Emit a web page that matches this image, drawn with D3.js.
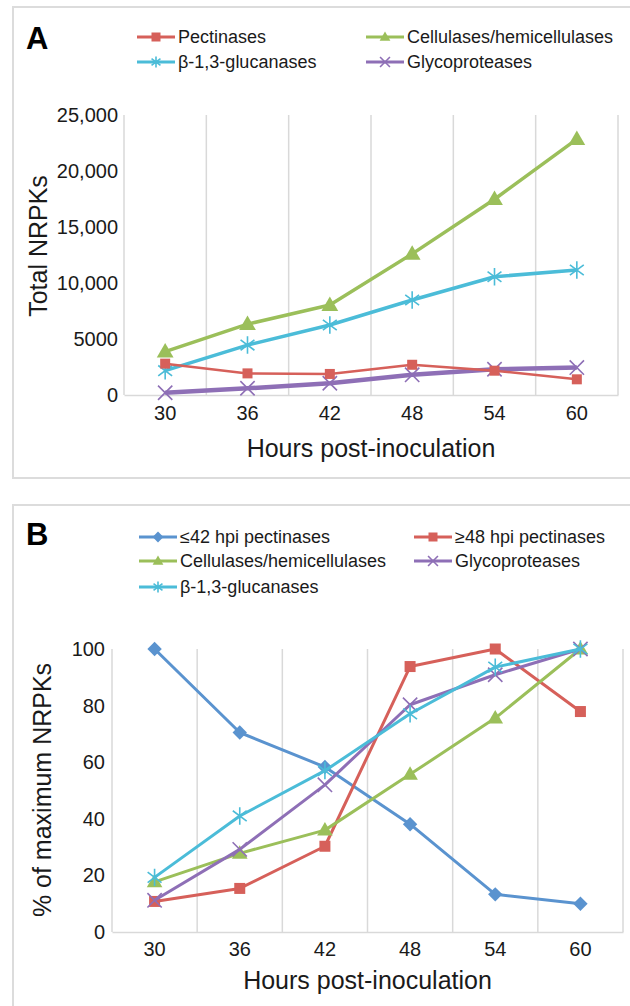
<!DOCTYPE html>
<html>
<head>
<meta charset="utf-8">
<script src="https://cdn.jsdelivr.net/npm/d3@7"></script>
<style>
  body { margin: 0; background: #fff; }
  text { font-family: "Liberation Sans", Arial, sans-serif; fill: #1a1a1a; }
</style>
</head>
<body>
<script>
// hours post-inoculation
var hours = [30, 36, 42, 48, 54, 60];

// panel A: total NRPKs
var pectinasesA = [2800, 1930, 1880, 2700, 2170, 1400];
var cellulasesA = [3870, 6330, 8030, 12600, 17480, 22850];
var glucanasesA = [2170, 4460, 6250, 8480, 10560, 11160];
var glycoproteasesA = [200, 600, 1050, 1800, 2300, 2450];
var ticksA = [0, 5000, 10000, 15000, 20000, 25000];
var tickLabelsA = ["0", "5000", "10,000", "15,000", "20,000", "25,000"];

// panel B: % of maximum NRPKs
var earlyPectB = [100, 70.5, 58.3, 38.1, 13.3, 10];
var latePectB = [10.8, 15.4, 30.3, 93.8, 100, 77.9];
var cellulasesB = [17.7, 27.8, 36, 55.7, 75.6, 100];
var glycoproteasesB = [11.2, 29.2, 52, 80.3, 90.9, 100];
var glucanasesB = [19.3, 41, 57, 77.1, 93.6, 100];
var ticksB = [0, 20, 40, 60, 80, 100];

var colors = {
  red: "#d6605a",
  green: "#9bbf5a",
  cyan: "#4bbcd8",
  purple: "#8e6fb6",
  blue: "#5a93cf"
};

var svg = d3.select("body").append("svg")
    .attr("width", 630)
    .attr("height", 1006);

// draws one marker shape centered at 0,0
function marker(g, shape, color, size) {
  var s = size;
  if (shape == "square") {
    g.append("rect").attr("x", -s / 2).attr("y", -s / 2)
      .attr("width", s).attr("height", s).attr("fill", color);
  } else if (shape == "triangle") {
    g.append("path").attr("d", `M0,${-s * 0.62}L${s * 0.6},${s * 0.42}L${-s * 0.6},${s * 0.42}Z`)
      .attr("fill", color);
  } else if (shape == "diamond") {
    g.append("path").attr("d", `M0,${-s * 0.6}L${s * 0.6},0L0,${s * 0.6}L${-s * 0.6},0Z`)
      .attr("fill", color);
  } else if (shape == "star") {
    var r = s * 0.62;
    g.append("path")
      .attr("d", `M0,${-r}V${r}M${-r * 0.8},${-r * 0.6}L${r * 0.8},${r * 0.6}M${-r * 0.8},${r * 0.6}L${r * 0.8},${-r * 0.6}`)
      .attr("stroke", color).attr("stroke-width", 1.6).attr("fill", "none");
  } else if (shape == "x") {
    var q = s * 0.55;
    g.append("path")
      .attr("d", `M${-q},${-q}L${q},${q}M${-q},${q}L${q},${-q}`)
      .attr("stroke", color).attr("stroke-width", 1.6).attr("fill", "none");
  }
}

function drawPanel(p) {
  // panel frame
  svg.append("rect")
    .attr("x", 13).attr("y", p.frameTop)
    .attr("width", 640).attr("height", p.frameHeight)
    .attr("fill", "none").attr("stroke", "#dcdcdc").attr("stroke-width", 2);

  svg.append("text")
    .attr("x", 26).attr("y", p.letterY)
    .style("font-size", "31px").style("font-weight", "bold")
    .style("fill", "#000")
    .text(p.letter);

  var x = d3.scaleBand().domain(hours).range([p.left, p.right]).padding(0);
  var y = d3.scaleLinear().domain([0, p.yMax]).range([p.bottom, p.top]);

  // vertical gridlines at category boundaries
  var edges = hours.map(h => x(h)).concat([p.right]);
  svg.append("g").selectAll("line")
    .data(edges)
    .enter()
    .append("line")
    .attr("x1", d => d).attr("x2", d => d)
    .attr("y1", p.top).attr("y2", p.bottom)
    .attr("stroke", "#d9d9d9").attr("stroke-width", 1.5);

  // axes
  var leftAxis = d3.axisLeft(y).tickValues(p.ticks).tickSize(0).tickPadding(p.tickPad)
    .tickFormat((d, i) => p.tickLabels[i]);
  var yAxisGroup = svg.append("g")
    .attr("transform", `translate(${p.left},0)`)
    .call(leftAxis);
  yAxisGroup.select(".domain").remove();
  yAxisGroup.selectAll("text").style("font-size", "20px").style("font-family", "Liberation Sans, Arial");

  var bottomAxis = d3.axisBottom(x).tickSize(0).tickPadding(p.xTickPad);
  var xAxisGroup = svg.append("g")
    .attr("transform", `translate(0,${p.bottom})`)
    .call(bottomAxis);
  xAxisGroup.select(".domain").attr("stroke", "#d9d9d9").attr("stroke-width", 1.5);
  xAxisGroup.selectAll("text").style("font-size", "20px").style("font-family", "Liberation Sans, Arial");

  // axis titles
  svg.append("text")
    .attr("transform", `translate(${p.yTitleX},${p.yTitleY}) rotate(-90)`)
    .attr("text-anchor", "middle")
    .attr("dy", "0.35em")
    .style("font-size", "25px")
    .text(p.yTitle);

  svg.append("text")
    .attr("x", (p.left + p.right) / 2)
    .attr("y", p.xTitleY)
    .attr("text-anchor", "middle")
    .attr("dy", "0.35em")
    .style("font-size", "25px")
    .text("Hours post-inoculation");

  // series lines and markers
  var line = d3.line()
    .x((d, i) => x(hours[i]) + x.bandwidth() / 2)
    .y(d => y(d));

  p.series.forEach(s => {
    svg.append("path")
      .datum(s.values)
      .attr("d", line)
      .attr("fill", "none")
      .attr("stroke", s.color)
      .attr("stroke-width", s.width)
      .attr("stroke-linejoin", "round");

    svg.append("g").selectAll("g")
      .data(s.values)
      .enter()
      .append("g")
      .attr("transform", (d, i) => `translate(${x(hours[i]) + x.bandwidth() / 2},${y(d)})`)
      .each(function () { marker(d3.select(this), s.shape, s.color, s.size); });
  });

  // legend
  p.legend.forEach(l => {
    var s = p.series.find(d => d.name == l.name);
    var g = svg.append("g").attr("transform", `translate(${l.x},${l.y})`);
    g.append("line").attr("x1", 0).attr("x2", 38)
      .attr("stroke", s.color).attr("stroke-width", 3);
    marker(g.append("g").attr("transform", "translate(19,0)"), s.shape, s.color, 9);
    g.append("text").attr("x", 41).attr("dy", "0.35em")
      .style("font-size", "18px")
      .text(s.name);
  });
}

drawPanel({
  letter: "A", letterY: 49, frameTop: 7, frameHeight: 471,
  left: 124, right: 618, top: 115, bottom: 395, yMax: 25000,
  ticks: ticksA, tickLabels: tickLabelsA, tickPad: 6, xTickPad: 11,
  yTitle: "Total NRPKs", yTitleX: 38, yTitleY: 246, xTitleY: 448,
  series: [
    { name: "Glycoproteases", values: glycoproteasesA, color: colors.purple, shape: "x", size: 13, width: 4.5 },
    { name: "β-1,3-glucanases", values: glucanasesA, color: colors.cyan, shape: "star", size: 14, width: 3.5 },
    { name: "Cellulases/hemicellulases", values: cellulasesA, color: colors.green, shape: "triangle", size: 14, width: 3.5 },
    { name: "Pectinases", values: pectinasesA, color: colors.red, shape: "square", size: 10, width: 2.5 }
  ],
  legend: [
    { name: "Pectinases", x: 137, y: 37 },
    { name: "Cellulases/hemicellulases", x: 366, y: 37 },
    { name: "β-1,3-glucanases", x: 137, y: 62 },
    { name: "Glycoproteases", x: 366, y: 62 }
  ]
});

drawPanel({
  letter: "B", letterY: 545, frameTop: 505, frameHeight: 600,
  left: 112, right: 623, top: 649, bottom: 932, yMax: 100,
  ticks: ticksB, tickLabels: ticksB.map(String), tickPad: 7, xTickPad: 10,
  yTitle: "% of maximum NRPKs", yTitleX: 42, yTitleY: 790, xTitleY: 980,
  series: [
    { name: "≤42 hpi pectinases", values: earlyPectB, color: colors.blue, shape: "diamond", size: 12, width: 3 },
    { name: "≥48 hpi pectinases", values: latePectB, color: colors.red, shape: "square", size: 11, width: 3 },
    { name: "Cellulases/hemicellulases", values: cellulasesB, color: colors.green, shape: "triangle", size: 13, width: 3 },
    { name: "Glycoproteases", values: glycoproteasesB, color: colors.purple, shape: "x", size: 13, width: 3 },
    { name: "β-1,3-glucanases", values: glucanasesB, color: colors.cyan, shape: "star", size: 14, width: 3 }
  ],
  legend: [
    { name: "≤42 hpi pectinases", x: 139, y: 537 },
    { name: "≥48 hpi pectinases", x: 414, y: 537 },
    { name: "Cellulases/hemicellulases", x: 139, y: 561 },
    { name: "Glycoproteases", x: 414, y: 561 },
    { name: "β-1,3-glucanases", x: 139, y: 587 }
  ]
});
</script>
</body>
</html>
